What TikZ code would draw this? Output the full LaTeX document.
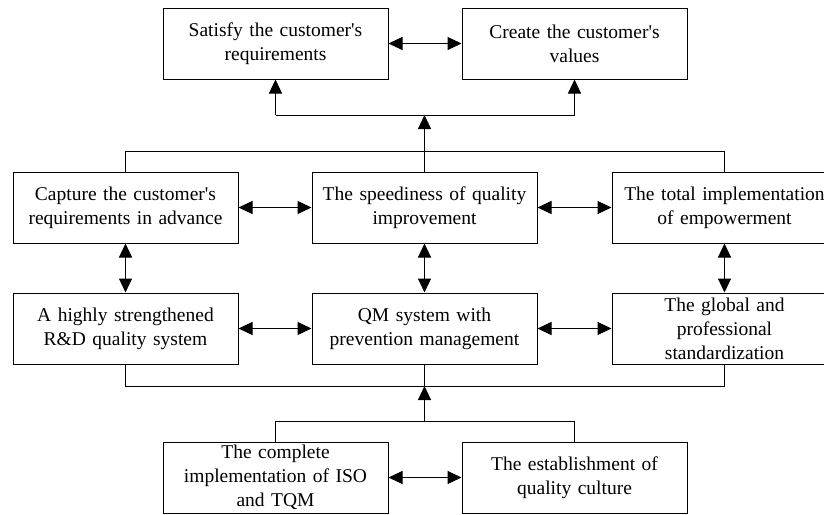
\documentclass[tikz,border=0pt]{standalone}
\usepackage{fontspec}
\setmainfont{Liberation Serif}
\usetikzlibrary{arrows.meta}
\newcommand{\ap}{\textquotesingle}
\begin{document}
\begin{tikzpicture}[x=1pt,y=-1pt,
  box/.style={draw,line width=1pt,minimum width=225pt,minimum height=71pt,inner sep=0pt,
    text width=224pt,align=center,font=\fontsize{19.5}{24}\selectfont},
  conn/.style={line width=1pt},
  tip/.style={conn,-{Triangle[length=14pt,width=13pt]}},
  dbl/.style={conn,{Triangle[length=14pt,width=13pt]}-{Triangle[length=14pt,width=13pt]}}]
\useasboundingbox (0,0) rectangle (824,514);
\clip (0,0) rectangle (824,514);
\node[box] (sat) at (275.5,43.5) {Satisfy the customer\ap s\\requirements};
\node[box] (cre) at (574.5,43.5) {Create the customer\ap s\\values};
\node[box] (cap) at (125.5,207.5) {Capture the customer\ap s\\requirements in advance};
\node[box] (spd) at (424.5,207.5) {The speediness of quality\\improvement};
\node[box] (tot) at (724.5,207.5) {The total implementation\\of empowerment};
\node[box] (rd) at (125.5,328.5) {A highly strengthened\\R\&D quality system};
\node[box] (qm) at (424.5,328.5) {QM system with\\prevention management};
\node[box] (glo) at (724.5,328.5) {The global and\\professional\\standardization};
\node[box] (iso) at (275.5,477.5) {The complete\\implementation of ISO\\and TQM};
\node[box] (est) at (574.5,477.5) {The establishment of\\quality culture};
% coordinates
\coordinate (tl) at (275.5,115);
\coordinate (tr) at (574.5,115);
\coordinate (tc) at (424.5,115);
\coordinate (ml) at (125.5,151);
\coordinate (mc) at (424.5,151);
\coordinate (mr) at (724.5,151);
\coordinate (bl) at (125.5,386);
\coordinate (bc) at (424.5,386);
\coordinate (br) at (724.5,386);
\coordinate (ll) at (275.5,421);
\coordinate (lc) at (424.5,421);
\coordinate (lr) at (574.5,421);
% horizontal double arrows
\draw[dbl] (sat.east) -- (cre.west);
\draw[dbl] (cap.east) -- (spd.west);
\draw[dbl] (spd.east) -- (tot.west);
\draw[dbl] (rd.east) -- (qm.west);
\draw[dbl] (qm.east) -- (glo.west);
\draw[dbl] (iso.east) -- (est.west);
% vertical double arrows
\draw[dbl] (cap.south) -- (rd.north);
\draw[dbl] (spd.south) -- (qm.north);
\draw[dbl] (tot.south) -- (glo.north);
% top tree
\draw[conn] (tl) -- (tr);
\draw[tip] (tl) -- (sat.south);
\draw[tip] (tr) -- (cre.south);
\draw[conn] (cap.north) -- (ml) -- (mr) -- (tot.north);
\draw[conn] (spd.north) -- (mc);
\draw[tip] (mc) -- (tc);
% bottom tree
\draw[conn] (rd.south) -- (bl) -- (br) -- (glo.south);
\draw[conn] (qm.south) -- (bc);
\draw[tip] (lc) -- (bc);
\draw[conn] (iso.north) -- (ll) -- (lr) -- (est.north);
\end{tikzpicture}
\end{document}
